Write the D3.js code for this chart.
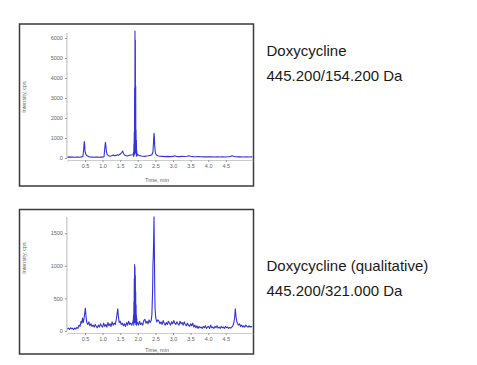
<!DOCTYPE html>
<html><head><meta charset="utf-8">
<script src="https://cdn.jsdelivr.net/npm/d3@7"></script>
<style>body{margin:0;background:#fff}svg{display:block}</style>
</head><body>
<svg id="c" width="477" height="365"></svg>
<script>
// ---------- data ----------
const topTitle = ["Doxycycline", "445.200/154.200 Da"];
const bottomTitle = ["Doxycycline (qualitative)", "445.200/321.000 Da"];
const xTicks = [0.5, 1.0, 1.5, 2.0, 2.5, 3.0, 3.5, 4.0, 4.5];
const topYTicks = [0, 1000, 2000, 3000, 4000, 5000, 6000];
const bottomYTicks = [0, 500, 1000, 1500];

const topTimes = [0.00,0.05,0.10,0.15,0.20,0.25,0.30,0.35,0.40,0.44,0.46,0.48,0.49,0.50,0.52,0.55,0.60,0.65,0.70,0.75,0.80,0.85,0.90,0.95,1.00,1.04,1.06,1.08,1.09,1.11,1.13,1.17,1.22,1.27,1.30,1.33,1.38,1.42,1.45,1.50,1.54,1.57,1.59,1.62,1.66,1.70,1.75,1.80,1.85,1.87,
1.880,1.885,1.890,1.895,1.900,1.905,1.910,1.915,1.920,1.925,1.930,1.935,1.940,1.945,1.950,1.955,1.960,1.965,1.970,1.975,
1.985,2.02,2.06,2.10,2.15,2.20,2.25,2.30,2.35,2.40,2.43,2.45,2.46,2.47,2.48,2.50,2.53,2.57,2.62,2.70,2.78,2.85,2.92,3.00,3.05,3.10,3.18,3.25,3.32,3.40,3.45,3.50,3.58,3.65,3.72,3.80,3.88,3.95,4.02,4.10,4.18,4.25,4.32,4.40,4.48,4.55,4.62,4.68,4.72,4.78,4.85,4.92,5.00,5.08,5.15,5.25];
const topValues = [40,55,45,50,40,45,50,40,55,60,400,820,700,350,200,120,70,50,45,40,50,45,40,50,45,60,450,790,650,300,180,110,90,120,150,110,130,160,140,200,260,350,240,150,120,100,130,150,160,180,
300,80,700,150,1300,200,3500,300,6350,400,5900,250,3600,300,1400,150,900,100,400,90,
200,140,120,100,90,80,100,110,130,160,300,900,1230,1100,600,250,150,110,90,80,70,80,70,80,110,75,70,80,75,90,110,90,70,60,70,60,55,65,55,60,50,60,50,55,50,60,70,110,90,65,55,60,50,55,50,55];

const bottomTimes = [0.00,0.03,0.06,0.09,0.12,0.15,0.18,0.21,0.24,0.27,0.30,0.33,0.36,0.39,0.41,0.43,0.45,0.47,0.49,0.51,0.53,0.55,0.58,0.61,0.64,0.67,0.70,0.73,0.76,0.79,0.82,0.85,0.88,0.91,0.94,0.97,1.00,1.03,1.06,1.09,1.12,1.15,1.18,1.21,1.24,1.27,1.30,1.33,1.36,1.39,1.41,1.43,1.45,1.47,1.50,1.53,1.56,1.59,1.62,1.65,1.68,1.71,1.74,1.77,1.80,1.83,1.86,1.875,
1.880,1.885,1.890,1.895,1.900,1.905,1.910,1.915,1.920,1.925,1.930,1.935,1.940,1.945,1.950,1.955,1.960,1.965,1.970,1.975,
1.99,2.02,2.05,2.08,2.11,2.14,2.17,2.20,2.23,2.26,2.29,2.32,2.35,2.38,2.40,2.42,2.43,2.44,2.45,2.46,2.47,2.48,2.49,2.51,2.54,2.57,2.60,2.63,2.66,2.69,2.72,2.75,2.78,2.81,2.84,2.87,2.90,2.93,2.96,2.99,3.02,3.05,3.08,3.11,3.14,3.17,3.20,3.23,3.26,3.29,3.32,3.35,3.38,3.41,3.44,3.47,3.50,3.53,3.56,3.59,3.62,3.65,3.68,3.71,3.74,3.77,3.80,3.83,3.86,3.89,3.92,3.95,3.98,4.01,4.04,4.07,4.10,4.13,4.16,4.19,4.22,4.25,4.28,4.31,4.34,4.37,4.40,4.43,4.46,4.49,4.52,4.55,4.58,4.61,4.64,4.67,4.70,4.73,4.75,4.77,4.79,4.81,4.83,4.86,4.89,4.92,4.95,4.98,5.01,5.04,5.07,5.10,5.13,5.16,5.19,5.22,5.25];
const bottomValues = [30,45,25,50,35,40,20,45,30,55,40,90,70,150,120,200,130,180,260,350,220,130,100,140,80,110,70,90,60,100,70,50,90,60,110,80,60,120,70,100,60,130,80,110,70,140,90,120,100,180,260,340,220,130,150,100,120,80,110,70,130,90,150,100,120,90,140,180,
250,90,450,120,800,150,1020,200,980,130,850,180,600,100,400,160,250,90,200,110,
130,90,150,100,120,90,160,180,120,150,110,170,130,160,250,600,1000,1150,1400,1750,1300,700,350,200,140,170,150,110,140,100,160,120,90,130,100,150,120,90,140,110,160,120,100,140,110,90,150,110,130,90,140,100,80,120,90,70,110,80,120,60,90,50,80,40,70,50,60,40,70,50,80,40,60,70,40,90,50,60,40,70,50,80,45,60,40,70,50,60,40,70,50,60,40,55,45,60,80,130,200,340,220,150,120,90,110,70,90,60,80,60,90,70,60,80,60,70,60];

// ---------- drawing ----------
const svg = d3.select("#c");
const lineColor = "#3434d6";
const font = "Liberation Sans, Arial, sans-serif";

function panel(cfg) {
  const g = svg.append("g");
  g.append("rect").attr("x", cfg.box[0]).attr("y", cfg.box[1])
    .attr("width", cfg.box[2]).attr("height", cfg.box[3])
    .attr("fill", "#fff").attr("stroke", "#3a3a3a").attr("stroke-width", 1.5);

  const x = d3.scaleLinear().domain([0, 5.25]).range([67.4, 252.2]);
  const y = d3.scaleLinear().domain(cfg.yDomain).range(cfg.yRange);

  const yAxis = g.append("g").attr("transform", `translate(${x(0) - 0.5},0)`)
    .call(d3.axisLeft(y).tickValues(cfg.yTicks).tickSize(2).tickPadding(2).tickFormat(d3.format("d")));
  yAxis.select(".domain").attr("stroke", "#bbb").attr("d", `M0,${y(0)}V${cfg.yTop}`);
  yAxis.selectAll(".tick line").attr("stroke", "#999");
  yAxis.selectAll("text").attr("font-family", font)
    .attr("font-size", 5.5).attr("fill", "#666");

  const xAxis = g.append("g").attr("transform", `translate(0,${y(0) + 2})`)
    .call(d3.axisBottom(x).tickValues(xTicks).tickSize(2).tickPadding(2).tickFormat(d3.format(".1f")));
  xAxis.select(".domain").attr("stroke", "#ccc");
  xAxis.selectAll(".tick line").attr("stroke", "#999");
  xAxis.selectAll("text").attr("font-family", font)
    .attr("font-size", 5.5).attr("fill", "#666");

  g.append("text").attr("x", 157).attr("y", cfg.xLabelY)
    .attr("text-anchor", "middle").attr("font-family", font)
    .attr("font-size", 5.5).attr("fill", "#666").text("Time, min");
  g.append("text").attr("transform", `translate(26,${cfg.yLabelY}) rotate(-90)`)
    .attr("text-anchor", "middle").attr("font-family", font)
    .attr("font-size", 5.5).attr("fill", "#666").text("Intensity, cps");

  const pts = cfg.times.map((t, i) => [t, cfg.values[i]]);
  g.append("path").datum(pts)
    .attr("fill", "none").attr("stroke", lineColor).attr("stroke-width", 1.1)
    .attr("stroke-linejoin", "round")
    .attr("d", d3.line().x(d => x(d[0])).y(d => y(d[1])));

  cfg.title.forEach((s, i) => {
    svg.append("text").attr("x", 266.5).attr("y", cfg.titleY + i * 25)
      .attr("font-family", font)
      .attr("font-size", 15).attr("fill", "#1a1a1a").text(s);
  });
}

panel({
  box: [19.5, 24, 234, 162], yDomain: [0, 6000], yRange: [158, 38], yTop: 33,
  yTicks: topYTicks, times: topTimes, values: topValues,
  xLabelY: 182, yLabelY: 97, title: topTitle, titleY: 55.7
});
panel({
  box: [19.5, 209.5, 234, 144.5], yDomain: [0, 1500], yRange: [331, 233.2], yTop: 217,
  yTicks: bottomYTicks, times: bottomTimes, values: bottomValues,
  xLabelY: 352, yLabelY: 258, title: bottomTitle, titleY: 270.7
});
</script>
</body></html>
